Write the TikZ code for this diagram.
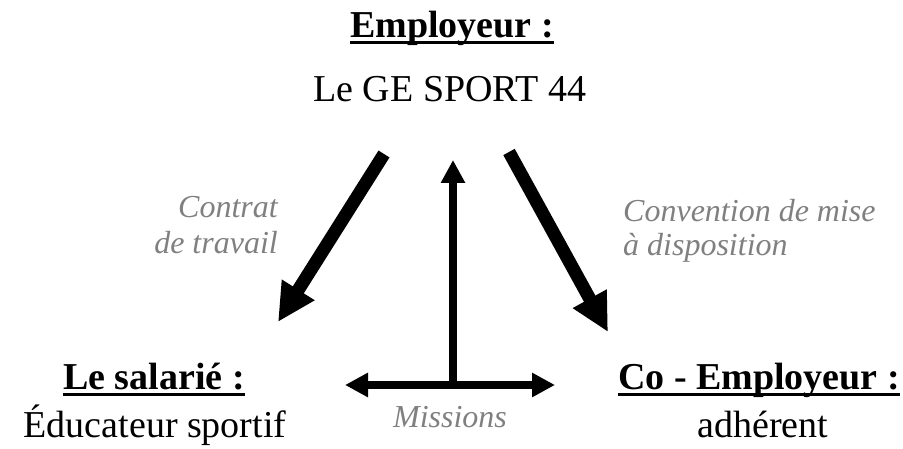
\documentclass[tikz,border=0pt]{standalone}
\usepackage{fontspec}
\setmainfont{Liberation Serif}
\usetikzlibrary{arrows.meta}
\newcommand{\myul}[1]{\setbox0\hbox{#1}\rlap{\rule[-6pt]{\wd0}{3pt}}\box0}
\begin{document}
\begin{tikzpicture}[x=1pt,y=1pt,
  maintext/.style={inner sep=0pt,font=\fontsize{38}{44}\selectfont},
  titletext/.style={inner sep=0pt,font=\fontsize{38}{44}\selectfont\bfseries},
  labeltext/.style={inner sep=0pt,text=gray,font=\fontsize{32}{37}\selectfont\itshape},
  bigarrow/.style={line width=13pt,-{Triangle[width=36pt,length=38pt]}},
  thinarrow/.style={line width=7.5pt,-{Triangle[width=23pt,length=23pt]}}]
\useasboundingbox (0,0) rectangle (903,449);
% texts
\node[titletext,anchor=base] (emp) at (452,411) {\myul{Employeur :}};
\node[maintext,anchor=base] (ge) at (450,347) {Le GE SPORT 44};
\node[titletext,anchor=base] (sal) at (154,59) {\myul{Le salarié :}};
\node[maintext,anchor=base] (edu) at (155,11) {Éducateur sportif};
\node[titletext,anchor=base] (coemp) at (759,59) {\myul{Co - Employeur :}};
\node[maintext,anchor=base] (adh) at (763,11) {adhérent};
\node[labeltext,anchor=base east] (contrat) at (278,231) {Contrat};
\node[labeltext,anchor=base east] (travail) at (278,195) {de travail};
\node[labeltext,anchor=base west] (conv) at (623,227) {Convention de mise};
\node[labeltext,anchor=base west] (dispo) at (623,193) {à disposition};
\node[labeltext,anchor=base] (missions) at (450,21) {Missions};
% arrow coordinates
\coordinate (la) at (384,295);
\coordinate (lb) at (278,127);
\coordinate (ra) at (509,297);
\coordinate (rb) at (608,117);
\coordinate (vt) at (453,289);
\coordinate (vb) at (453,60);
\coordinate (hl) at (345,64);
\coordinate (hr) at (555,64);
\coordinate (hm) at (453,64);
\draw[bigarrow] (la) -- (lb);
\draw[bigarrow] (ra) -- (rb);
\draw[thinarrow] (vb) -- (vt);
\draw[thinarrow] (hm) -- (hl);
\draw[thinarrow] (hm) -- (hr);
\end{tikzpicture}
\end{document}
